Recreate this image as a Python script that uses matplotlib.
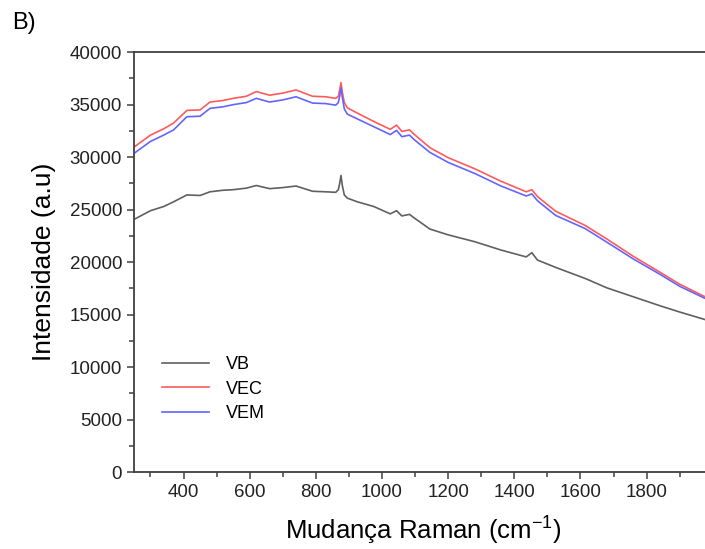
import matplotlib
matplotlib.use("Agg")
import matplotlib.pyplot as plt
from matplotlib.ticker import MultipleLocator

plt.rcParams['font.family'] = ['Liberation Sans', 'DejaVu Sans']
plt.rcParams['mathtext.fontset'] = 'custom'
plt.rcParams['mathtext.rm'] = 'Liberation Sans'
plt.rcParams['mathtext.it'] = 'Liberation Sans'

# Raman shift (cm-1)
raman_shift = [252, 300, 340, 370, 410, 450, 480, 520, 550, 590, 620, 660, 700, 740, 790,
               830, 860, 868, 872, 876, 880, 886, 895, 925, 975, 1025, 1044, 1060, 1083,
               1100, 1145, 1200, 1280, 1360, 1436, 1453, 1470, 1525, 1614, 1680, 1760,
               1840, 1900, 1980]

vb = [24100, 24900, 25300, 25750, 26400, 26350, 26700, 26850, 26900, 27050, 27300, 27000,
      27100, 27250, 26750, 26700, 26650, 26900, 27500, 28250, 27300, 26400, 26100, 25750,
      25300, 24600, 24900, 24400, 24550, 24150, 23150, 22600, 21950, 21150, 20500, 20900,
      20200, 19500, 18450, 17550, 16700, 15850, 15250, 14500]

vec = [31000, 32100, 32700, 33250, 34450, 34500, 35250, 35400, 35600, 35800, 36250, 35900,
       36100, 36400, 35800, 35750, 35600, 35800, 36400, 37100, 36200, 35200, 34700, 34200,
       33400, 32650, 33050, 32450, 32600, 32100, 30900, 29950, 28900, 27700, 26700, 26900,
       26250, 24850, 23500, 22200, 20550, 19050, 17900, 16650]

vem = [30400, 31500, 32100, 32600, 33850, 33900, 34650, 34800, 35000, 35200, 35600, 35250,
       35450, 35750, 35150, 35100, 34950, 35200, 35800, 36600, 35700, 34600, 34100, 33650,
       32900, 32150, 32550, 31950, 32100, 31600, 30450, 29500, 28450, 27250, 26300, 26500,
       25850, 24450, 23200, 21900, 20300, 18850, 17700, 16500]

x_ticks = [400, 600, 800, 1000, 1200, 1400, 1600, 1800]
x_minor = [300, 500, 700, 900, 1100, 1300, 1500, 1700, 1900]

fig = plt.figure(figsize=(7.05, 5.49), dpi=100)
# axes runs a little past the right edge, like the cropped original
ax = fig.add_axes([0.190, 0.140, 0.821, 0.765])

ax.plot(raman_shift, vb, color='#606060', lw=1.2, label='VB')
ax.plot(raman_shift, vec, color='#ff5a5a', lw=1.2, label='VEC')
ax.plot(raman_shift, vem, color='#6464ff', lw=1.2, label='VEM')

ax.set_xlim(250, 2000)
ax.set_ylim(0, 40000)
ax.set_xticks(x_ticks)
ax.set_xticks(x_minor, minor=True)
ax.yaxis.set_major_locator(MultipleLocator(5000))
ax.yaxis.set_minor_locator(MultipleLocator(2500))
ax.tick_params(which='both', direction='out', color='#404040', width=1.1,
               labelsize=13.5, labelcolor='#222222', top=False, right=False)
ax.tick_params(which='major', length=5)
ax.tick_params(which='minor', length=3.5)
for s in ax.spines.values():
    s.set_color('#404040')
    s.set_linewidth(1.3)

ax.set_xlabel('Mudança Raman (cm$^{-1}$)', fontsize=18.5, labelpad=10)
ax.set_ylabel('Intensidade (a.u)', fontsize=19, labelpad=10)

ax.legend(loc='lower left', bbox_to_anchor=(0.02, 0.08), frameon=False, fontsize=13,
          handlelength=2.6, handletextpad=0.95, labelspacing=0.42)

fig.text(0.017, 0.948, 'B)', fontsize=17)

fig.savefig('out.png', dpi=100)
